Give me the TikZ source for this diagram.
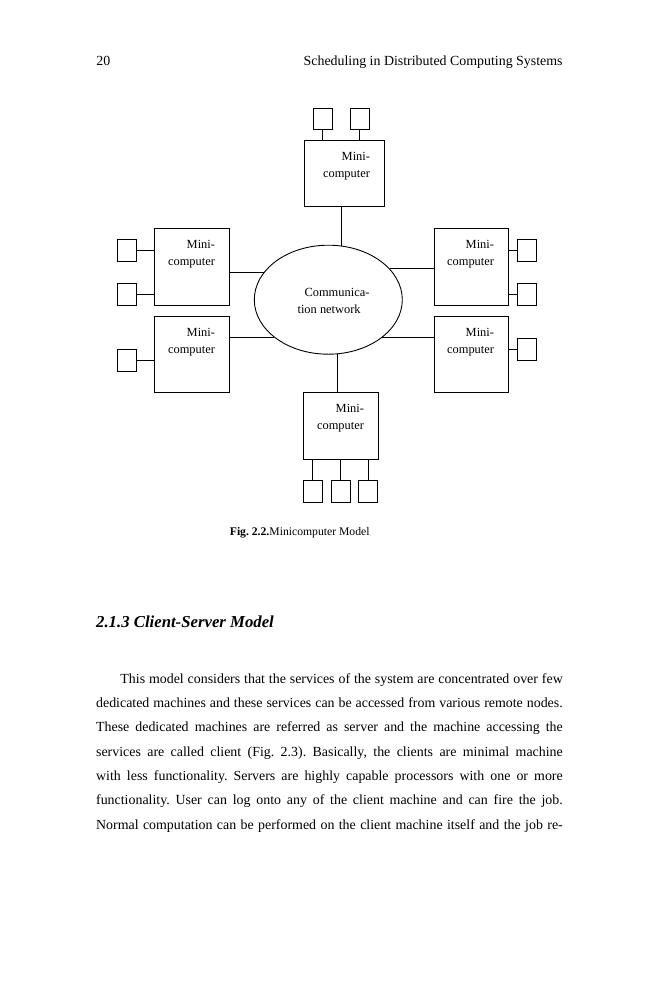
\documentclass[tikz,border=0pt]{standalone}
\usepackage{fontspec}
\setmainfont{Liberation Serif}
\usetikzlibrary{positioning}
\usetikzlibrary{shapes.geometric}

\newlength{\unitpx}
\setlength{\unitpx}{0.0235cm}
\frenchspacing

\tikzset{
    minibox/.style={draw, minimum width=75\unitpx, minimum height=76\unitpx, inner sep=0pt,
        label={[minilbl]north east:{Mini-\\computer}}},
    minilbl/.style={anchor=north east, align=right, inner sep=0pt, xshift=-14\unitpx, yshift=-12\unitpx,
        font=\fontsize{8.3}{11.3}\selectfont},
    termbox/.style={draw, minimum width=19\unitpx, minimum height=22\unitpx, inner sep=0pt},
    bodyline/.style={anchor=base west, inner sep=0pt, font=\fontsize{9.3}{11}\selectfont},
}

\begin{document}
\begin{tikzpicture}[x=\unitpx, y=-\unitpx, line width=0.6pt]
        \useasboundingbox (0,0) rectangle (659,1000);
        % running head
        \node[bodyline] (pgno) at (96,65) {20};
        \node[bodyline, anchor=base east] (rhead) at (563,65) {Scheduling in Distributed Computing Systems};

        % network in the middle
        \node[draw, ellipse, minimum width=148\unitpx, minimum height=109\unitpx, inner sep=0pt] (net) at (328.3,299.7) {};
        \node[inner sep=0pt, align=left, font=\fontsize{8.3}{11.6}\selectfont] (nettxt) at (333.5,301) {\hspace*{7\unitpx}Communica-\\tion network};

        % minicomputers
        \node[minibox, minimum width=80\unitpx, minimum height=66\unitpx] (mt) at (344,173) {};
        \node[minibox, minimum height=77\unitpx] (mlu) at (191.5,266.5) {};
        \node[minibox] (mll) at (191.5,354) {};
        \node[minibox, minimum width=74\unitpx, minimum height=77\unitpx] (mru) at (471,266.5) {};
        \node[minibox, minimum width=74\unitpx] (mrl) at (471,354) {};
        \node[minibox, minimum height=67\unitpx] (mb) at (340.5,425.5) {};

        \draw (net.76) -- (net.76 |- mt.south);
        \draw (net.-80) -- (net.-80 |- mb.north);
        \draw (net.157) -- (net.157 -| mlu.east);
        \draw (net.215.5) -- (net.215.5 -| mll.east);
        \draw (net.27) -- (net.27 -| mru.west);
        \draw (net.-35) -- (net.-35 -| mrl.west);

        % terminals
        \foreach \n/\x in {1/322.5,2/359.5} {
            \node[termbox, minimum height=21\unitpx] (t\n) at (\x,118.5) {};
            \draw (t\n.south) -- (t\n.south |- mt.north);
        }
        \foreach \n/\y/\m in {1/250/mlu,2/294/mlu,3/360/mll} {
            \node[termbox] (l\n) at (126.5,\y) {};
            \draw (l\n.east) -- (l\n.east -| \m.west);
        }
        \foreach \n/\y/\m in {1/250.5/mru,2/294/mru,3/349/mrl} {
            \node[termbox] (r\n) at (526.5,\y) {};
            \draw (r\n.west) -- (r\n.west -| \m.east);
        }
        \foreach \n/\x in {1/312.8,2/340.5,3/368.3} {
            \node[termbox] (b\n) at (\x,491) {};
            \draw (b\n.north) -- (b\n.north |- mb.south);
        }

        \node[anchor=base, inner sep=0pt, font=\fontsize{7.8}{9}\selectfont] (cap) at (299.7,535) {\textbf{Fig. 2.2.}Minicomputer Model};

        % section and text
        \node[anchor=base west, inner sep=0pt, font=\fontsize{11.2}{13}\selectfont\bfseries\itshape] (sec) at (95.7,627) {2.1.3 Client-Server Model};

        \node[bodyline] (p1) at (120,683) {\makebox[442.3\unitpx][s]{This model considers that the services of the system are concentrated over few}};
        \node[bodyline] (p2) at (95.7,707) {\makebox[466.6\unitpx][s]{dedicated machines and these services can be accessed from various remote nodes.}};
        \node[bodyline] (p3) at (95.7,731.5) {\makebox[466.6\unitpx][s]{These dedicated machines are referred as server and the machine accessing the}};
        \node[bodyline] (p4) at (95.7,756) {\makebox[466.6\unitpx][s]{services are called client (Fig. 2.3). Basically, the clients are minimal machine}};
        \node[bodyline] (p5) at (95.7,780.5) {\makebox[466.6\unitpx][s]{with less functionality. Servers are highly capable processors with one or more}};
        \node[bodyline] (p6) at (95.7,804.5) {\makebox[466.6\unitpx][s]{functionality. User can log onto any of the client machine and can fire the job.}};
        \node[bodyline] (p7) at (95.7,829) {\makebox[466.6\unitpx][s]{Normal computation can be performed on the client machine itself and the job re-}};
\end{tikzpicture}
\end{document}
